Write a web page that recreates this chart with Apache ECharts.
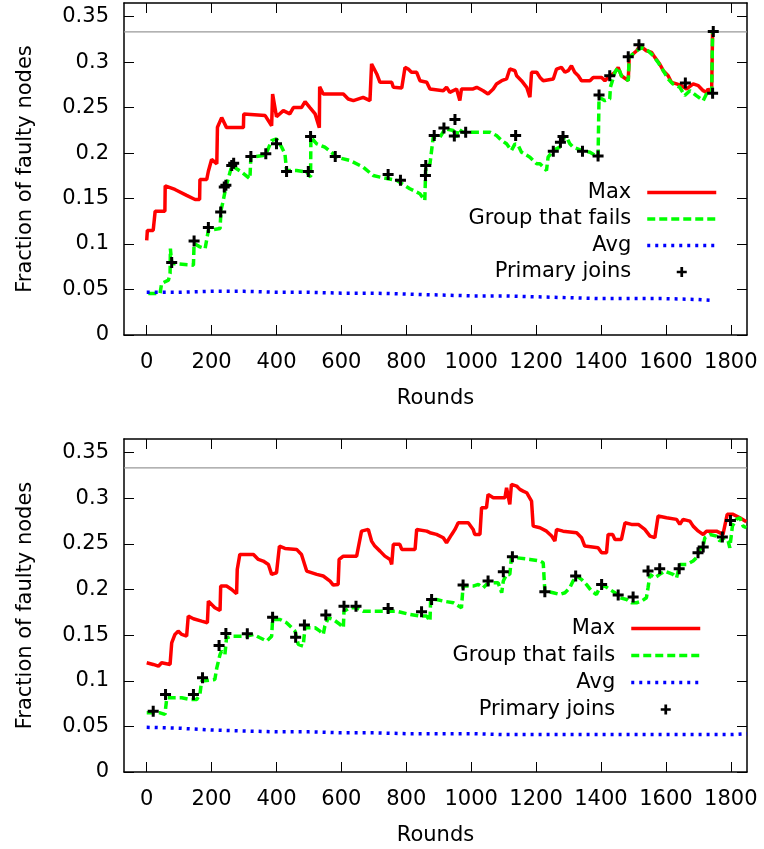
<!DOCTYPE html>
<html>
<head>
<meta charset="utf-8">
<script src="https://cdn.jsdelivr.net/npm/echarts@6/dist/echarts.min.js"></script>
<style>
html,body{margin:0;padding:0;background:#fff;}
#chart{width:764px;height:849px;}
</style>
</head>
<body>
<div id="chart"></div>
<script>
// ---------- Tick values ----------
const xTicks = [0, 200, 400, 600, 800, 1000, 1200, 1400, 1600, 1800];
const yTicks = [0, 0.05, 0.1, 0.15, 0.2, 0.25, 0.3, 0.35];
const thresholdValue = 1 / 3;
const xRange = [-70, 1850];
const seriesNames = ['Max', 'Group that fails', 'Avg', 'Primary joins'];

// ---------- Top chart data: [round, fraction] ----------
const topMax = [
  [0,0.104],[2,0.115],[20,0.115],[22,0.1133],[25,0.1133],[26,0.136],[56,0.136],[57,0.164],
  [87,0.160],[123,0.1535],[149,0.149],[163,0.149],[164,0.171],[185,0.171],[190,0.180],[200,0.193],
  [216,0.1882],[218,0.2284],[231,0.239],[246,0.228],[298,0.228],[299,0.243],[365,0.2412],[385,0.230],
  [388,0.265],[400,0.240],[421,0.2467],[441,0.2431],[452,0.250],[477,0.250],[488,0.2565],[503,0.250],
  [519,0.2431],[532,0.228],[533,0.273],[544,0.265],[565,0.265],[606,0.265],[621,0.2595],[637,0.2577],
  [667,0.2613],[688,0.2577],[693,0.298],[709,0.287],[719,0.2778],[755,0.2778],[760,0.2723],[786,0.2716],
  [796,0.2942],[806,0.2924],[816,0.2888],[832,0.2888],[842,0.2796],[863,0.2778],[873,0.2705],[914,0.2686],
  [924,0.2723],[934,0.2668],[955,0.2705],[965,0.2577],[970,0.2705],[1006,0.2705],[1017,0.2723],[1037,0.2686],
  [1052,0.265],[1068,0.2705],[1078,0.276],[1094,0.2796],[1109,0.2815],[1119,0.2924],[1135,0.2906],[1140,0.285],
  [1155,0.2796],[1171,0.2723],[1181,0.2614],[1186,0.2888],[1202,0.2888],[1212,0.2832],[1222,0.2796],[1253,0.2815],
  [1263,0.2924],[1278,0.2942],[1289,0.2888],[1299,0.2906],[1309,0.296],[1319,0.2888],[1330,0.285],[1340,0.2796],
  [1366,0.2796],[1376,0.2832],[1402,0.2832],[1412,0.2796],[1422,0.2832],[1427,0.285],[1443,0.2888],[1453,0.2942],
  [1463,0.285],[1484,0.2796],[1487,0.3052],[1510,0.3125],[1520,0.318],[1540,0.3125],[1556,0.3107],[1566,0.3052],
  [1581,0.2979],[1592,0.2906],[1607,0.285],[1617,0.2778],[1633,0.276],[1648,0.2741],[1664,0.2705],[1684,0.276],
  [1700,0.2741],[1715,0.2686],[1725,0.2668],[1730,0.2705],[1741,0.2668],[1744,0.3344]
];
const topGroup = [
  [5,0.0457],[41,0.0457],[46,0.0567],[67,0.0603],[72,0.0676],[73,0.095],[77,0.0786],[144,0.0768],
  [146,0.1005],[164,0.0969],[180,0.095],[190,0.1151],[226,0.117],[229,0.1371],[236,0.148],[244,0.1626],
  [257,0.1791],[262,0.1864],[277,0.1828],[293,0.1791],[318,0.1718],[321,0.1955],[359,0.1974],[370,0.201],
  [385,0.2138],[400,0.2157],[416,0.2065],[426,0.1992],[431,0.1809],[462,0.1809],[493,0.1791],[505,0.1736],
  [506,0.2174],[524,0.2102],[549,0.2065],[575,0.1992],[585,0.1955],[626,0.1919],[667,0.1846],[698,0.1754],
  [719,0.1736],[770,0.170],[811,0.1608],[842,0.1553],[857,0.148],[860,0.1846],[873,0.1882],[883,0.2174],
  [904,0.2174],[919,0.2266],[945,0.2248],[955,0.2174],[960,0.2266],[975,0.2229],[1017,0.2229],[1058,0.2229],
  [1078,0.2193],[1094,0.2138],[1109,0.2102],[1124,0.2029],[1135,0.2102],[1145,0.2083],[1155,0.201],[1181,0.1955],
  [1202,0.1882],[1212,0.1882],[1232,0.1809],[1237,0.1955],[1253,0.2029],[1273,0.2065],[1278,0.2157],[1294,0.2174],
  [1304,0.2102],[1314,0.2065],[1340,0.2029],[1366,0.201],[1391,0.1955],[1394,0.2613],[1412,0.2577],[1427,0.2595],
  [1429,0.2723],[1443,0.2888],[1453,0.2942],[1463,0.285],[1484,0.2796],[1487,0.3052],[1510,0.3125],[1525,0.3161],
  [1545,0.3125],[1561,0.307],[1576,0.2997],[1592,0.2906],[1607,0.2815],[1622,0.276],[1643,0.2723],[1658,0.2632],
  [1674,0.2686],[1694,0.2632],[1715,0.2577],[1725,0.265],[1741,0.265],[1744,0.3344]
];
const topAvg = [
  [0,0.047],[100,0.047],[200,0.048],[300,0.048],[400,0.047],[500,0.047],[600,0.046],[700,0.046],
  [800,0.045],[900,0.044],[1000,0.043],[1100,0.043],[1200,0.042],[1300,0.041],[1400,0.040],[1500,0.040],
  [1600,0.040],[1700,0.039],[1745,0.038]
];
const topJoins = [
  [77,0.0797],[146,0.1034],[190,0.1181],[228,0.1352],[239,0.1626],[244,0.1645],[262,0.1864],[268,0.1889],
  [321,0.1963],[367,0.1992],[400,0.2102],[431,0.1798],[498,0.1798],[505,0.2182],[581,0.1963],[744,0.1765],
  [782,0.170],[859,0.1754],[860,0.1864],[886,0.2193],[916,0.2277],[950,0.2368],[948,0.2189],[983,0.223],
  [1137,0.2193],[1253,0.2021],[1275,0.212],[1283,0.2182],[1343,0.2021],[1391,0.1967],[1394,0.2639],[1427,0.2851],
  [1484,0.3059],[1517,0.3191],[1660,0.2771],[1744,0.2657],[1746,0.3337]
];

// ---------- Bottom chart data ----------
const botMax = [
  [0,0.1197],[20,0.1179],[36,0.116],[46,0.1197],[72,0.1179],[77,0.1416],[87,0.1508],[97,0.1544],
  [108,0.1508],[123,0.149],[128,0.1709],[144,0.168],[169,0.1654],[187,0.1636],[190,0.1873],[210,0.18],
  [226,0.1771],[228,0.2038],[246,0.2038],[262,0.2001],[277,0.1954],[279,0.222],[287,0.2385],[329,0.2385],
  [344,0.233],[359,0.2312],[375,0.2275],[385,0.2166],[400,0.2184],[409,0.2476],[426,0.2451],[462,0.244],
  [477,0.2385],[493,0.2202],[524,0.2166],[544,0.2148],[565,0.2093],[575,0.2049],[590,0.2056],[593,0.233],
  [606,0.2366],[647,0.2366],[662,0.264],[683,0.2659],[693,0.2531],[703,0.2476],[719,0.2421],[734,0.2366],
  [750,0.233],[755,0.2275],[760,0.2495],[780,0.2495],[786,0.244],[827,0.244],[832,0.2659],[863,0.264],
  [873,0.2623],[893,0.2604],[914,0.2568],[924,0.2513],[929,0.2495],[940,0.2604],[950,0.2659],[960,0.2732],
  [991,0.2732],[1006,0.2659],[1011,0.2604],[1027,0.2604],[1032,0.2897],[1047,0.2897],[1052,0.3043],[1068,0.3006],
  [1104,0.3006],[1109,0.3116],[1119,0.2933],[1124,0.3152],[1140,0.3134],[1150,0.3098],[1160,0.3079],[1171,0.3061],
  [1186,0.297],[1191,0.2695],[1212,0.2677],[1232,0.264],[1248,0.2586],[1258,0.2531],[1263,0.2659],[1283,0.264],
  [1325,0.2623],[1340,0.2568],[1350,0.2476],[1391,0.2458],[1402,0.2403],[1417,0.2403],[1422,0.2604],[1436,0.2604],
  [1443,0.2549],[1463,0.2549],[1474,0.2732],[1494,0.2714],[1515,0.2714],[1535,0.2659],[1551,0.2586],[1566,0.2568],
  [1576,0.2805],[1602,0.2787],[1633,0.2769],[1643,0.2714],[1653,0.2769],[1674,0.275],[1684,0.2695],[1700,0.264],
  [1715,0.2604],[1725,0.264],[1756,0.264],[1776,0.2604],[1789,0.2824],[1807,0.2824],[1828,0.2787],[1848,0.2743]
];
const botGroup = [
  [0,0.0649],[41,0.0649],[56,0.0631],[62,0.0813],[108,0.0813],[133,0.0795],[154,0.0795],[164,0.085],
  [169,0.0996],[174,0.1014],[210,0.1014],[216,0.1142],[226,0.1288],[231,0.1325],[241,0.1288],[246,0.1471],
  [262,0.1489],[308,0.1489],[329,0.1508],[349,0.1471],[370,0.1435],[385,0.1489],[388,0.1672],[411,0.1672],
  [431,0.1636],[447,0.1581],[457,0.1544],[467,0.1398],[482,0.138],[488,0.1581],[519,0.1581],[534,0.1544],
  [544,0.1508],[549,0.1599],[560,0.169],[575,0.1672],[580,0.1654],[596,0.1617],[606,0.1581],[608,0.1763],
  [626,0.18],[647,0.18],[667,0.1763],[719,0.1763],[770,0.1763],[811,0.1727],[842,0.1709],[863,0.1709],
  [873,0.1654],[875,0.1891],[893,0.1891],[914,0.1873],[945,0.1855],[970,0.18],[975,0.2038],[1006,0.2038],
  [1022,0.2056],[1037,0.2019],[1047,0.2056],[1068,0.2074],[1083,0.2074],[1094,0.1965],[1099,0.2093],[1109,0.2166],
  [1119,0.2166],[1124,0.2348],[1140,0.2348],[1181,0.233],[1212,0.2312],[1222,0.2293],[1227,0.1983],[1253,0.1965],
  [1273,0.1946],[1289,0.1965],[1304,0.2019],[1314,0.2093],[1325,0.2147],[1340,0.2111],[1355,0.2056],[1371,0.1983],
  [1386,0.1946],[1396,0.2019],[1412,0.2038],[1427,0.2001],[1443,0.1965],[1458,0.191],[1479,0.1891],[1494,0.1855],
  [1510,0.1855],[1525,0.1873],[1540,0.191],[1545,0.2019],[1551,0.2166],[1566,0.2129],[1581,0.2166],[1597,0.2202],
  [1622,0.2166],[1633,0.2129],[1643,0.2275],[1664,0.2275],[1684,0.2312],[1694,0.2348],[1705,0.244],[1715,0.2476],
  [1720,0.2568],[1736,0.2604],[1756,0.2586],[1766,0.2531],[1771,0.2513],[1781,0.2568],[1792,0.2531],[1797,0.2458],
  [1802,0.244],[1805,0.2695],[1817,0.2769],[1828,0.2787],[1838,0.2695],[1848,0.2677]
];
const botAvg = [
  [0,0.049],[100,0.048],[200,0.046],[300,0.045],[400,0.044],[500,0.044],[600,0.043],[700,0.043],
  [800,0.042],[900,0.042],[1000,0.042],[1100,0.041],[1200,0.041],[1300,0.041],[1400,0.041],[1500,0.041],
  [1600,0.041],[1700,0.041],[1800,0.041],[1850,0.042]
];
const botJoins = [
  [20,0.0667],[58,0.085],[144,0.085],[172,0.1033],[223,0.1387],[244,0.1519],[310,0.1515],[388,0.1697],
  [459,0.1478],[486,0.161],[552,0.172],[608,0.1818],[645,0.1818],[744,0.1793],[847,0.1757],[878,0.1891],
  [975,0.2049],[1052,0.2093],[1099,0.2195],[1127,0.236],[1227,0.1976],[1322,0.2147],[1402,0.2056],[1453,0.1939],
  [1499,0.1917],[1545,0.2202],[1581,0.2228],[1641,0.2228],[1699,0.2403],[1715,0.2465],[1774,0.2575],[1799,0.2758]
];

// ---------- Styling ----------
const FONT = 'DejaVu Sans';
const FS = 21;
const plusPath = 'path://M4,0H7V4H11V7H7V11H4V7H0V4H4Z';
const grids = [
  { left: 124, top: 3, width: 623, height: 332 },
  { left: 124, top: 439, width: 623, height: 333 }
];

function xAxisFor(gi, pos, main) {
  return {
    type: 'value', gridIndex: gi, position: pos, min: xRange[0], max: xRange[1],
    axisLine: { show: true, onZero: false, lineStyle: { color: '#000', width: 1.5 } },
    axisTick: { show: true, inside: true, length: 10, customValues: xTicks, lineStyle: { color: '#000', width: 1 } },
    axisLabel: { show: main, customValues: xTicks, margin: 17, fontFamily: FONT, fontSize: FS, color: '#000',
      formatter: v => String(v) },
    splitLine: { show: false },
    name: main ? 'Rounds' : '', nameLocation: 'middle', nameGap: 53,
    nameTextStyle: { fontFamily: FONT, fontSize: FS, color: '#000' }
  };
}
function yAxisFor(gi, pos, main) {
  return {
    type: 'value', gridIndex: gi, position: pos, min: 0, max: 0.365,
    axisLine: { show: true, onZero: false, lineStyle: { color: '#000', width: 1.5 } },
    axisTick: { show: true, inside: true, length: 10, customValues: yTicks, lineStyle: { color: '#000', width: 1 } },
    axisLabel: { show: main, customValues: yTicks, margin: 15, fontFamily: FONT, fontSize: FS, color: '#000',
      formatter: v => String(+v.toFixed(2)) },
    splitLine: { show: false },
    name: main ? 'Fraction of faulty nodes' : '', nameLocation: 'middle', nameGap: 88,
    nameTextStyle: { fontFamily: FONT, fontSize: FS, color: '#000' }
  };
}

function seriesFor(gi, maxD, groupD, avgD, joinsD) {
  const xi = gi * 2, yi = gi * 2;
  return [
    { name: 'threshold', type: 'line', xAxisIndex: xi, yAxisIndex: yi, symbol: 'none', silent: true,
      data: [[xRange[0], thresholdValue], [xRange[1], thresholdValue]],
      lineStyle: { color: '#999999', width: 1.2 }, z: 1 },
    { name: seriesNames[0], type: 'line', xAxisIndex: xi, yAxisIndex: yi, data: maxD, symbol: 'none',
      lineStyle: { color: '#ff0000', width: 3.5 }, itemStyle: { color: '#ff0000' }, z: 2 },
    { name: seriesNames[1], type: 'line', xAxisIndex: xi, yAxisIndex: yi, data: groupD, symbol: 'none',
      lineStyle: { color: '#00ff00', width: 3.5, type: [8, 4] }, itemStyle: { color: '#00ff00' }, z: 3 },
    { name: seriesNames[2], type: 'line', xAxisIndex: xi, yAxisIndex: yi, data: avgD, symbol: 'none',
      lineStyle: { color: '#0000ff', width: 3.5, type: [3, 5] }, itemStyle: { color: '#0000ff' }, z: 4 },
    { name: seriesNames[3], type: 'scatter', xAxisIndex: xi, yAxisIndex: yi, data: joinsD,
      symbol: plusPath, symbolSize: 11, itemStyle: { color: '#000', opacity: 1 }, z: 5 }
  ];
}

function legendFor(right, top, gap) {
  const hidden = { opacity: 0 };
  return {
    orient: 'vertical', align: 'right', right: right, top: top,
    itemWidth: 69, itemHeight: 10, itemGap: gap, selectedMode: false,
    symbolKeepAspect: true,
    lineStyle: { width: 3.5 },
    textStyle: { fontFamily: FONT, fontSize: FS, color: '#000', lineHeight: 21, padding: [0, 11, 0, 0] },
    data: [
      { name: seriesNames[0], itemStyle: hidden },
      { name: seriesNames[1], itemStyle: hidden },
      { name: seriesNames[2], itemStyle: hidden },
      { name: seriesNames[3], icon: plusPath }
    ]
  };
}

const option = {
  animation: false,
  backgroundColor: '#fff',
  grid: grids,
  xAxis: [xAxisFor(0, 'bottom', true), xAxisFor(0, 'top', false), xAxisFor(1, 'bottom', true), xAxisFor(1, 'top', false)],
  yAxis: [yAxisFor(0, 'left', true), yAxisFor(0, 'right', false), yAxisFor(1, 'left', true), yAxisFor(1, 'right', false)],
  legend: [legendFor(41, 177, 5.5), legendFor(57, 613, 6)],
  series: [].concat(
    seriesFor(0, topMax, topGroup, topAvg, topJoins),
    seriesFor(1, botMax, botGroup, botAvg, botJoins)
  )
};

const chart = echarts.init(document.getElementById('chart'), null, { renderer: 'canvas' });
chart.setOption(option);
</script>
</body>
</html>
